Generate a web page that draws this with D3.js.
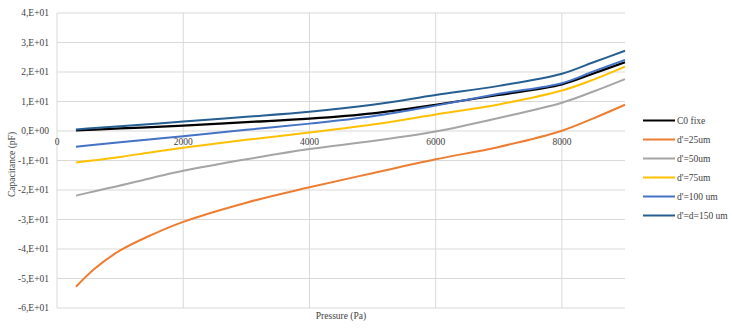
<!DOCTYPE html>
<html>
<head>
<meta charset="utf-8">
<script src="https://cdn.jsdelivr.net/npm/d3@7"></script>
<style>
  body { margin: 0; background: #fff; }
</style>
</head>
<body>
<div id="chart"></div>
<script>
// pressure samples (Pa)
const pressure = [300, 600, 1000, 1500, 2000, 3000, 4000, 5000, 6000, 7000, 8000, 8500, 9000];

// capacitance (pF) per configuration
const c0Fixe = [0.2, 0.5, 0.9, 1.3, 1.8, 3.0, 4.2, 6.0, 8.9, 12.2, 15.8, 19.5, 23.3];
const d25 = [-52.8, -46.6, -40.5, -35.2, -30.8, -24.3, -19.1, -14.3, -9.6, -5.4, 0.1, 4.3, 8.9];
const d50 = [-21.9, -20.4, -18.5, -15.9, -13.5, -9.6, -6.1, -3.4, -0.2, 4.4, 9.6, 13.4, 17.6];
const d75 = [-10.7, -9.9, -8.8, -7.2, -5.7, -3.0, -0.5, 2.2, 5.6, 9.0, 13.7, 17.4, 21.8];
const d100 = [-5.3, -4.7, -3.8, -2.8, -1.8, 0.4, 2.5, 5.0, 8.6, 12.6, 16.2, 20.2, 24.1];
const d150 = [0.5, 1.0, 1.6, 2.4, 3.2, 4.8, 6.5, 8.9, 12.2, 15.3, 19.4, 23.3, 27.2];

const seriesNames = ["C0 fixe", "d'=25um", "d'=50um", "d'=75um", "d'=100 um", "d'=d=150 um"];
const seriesValues = [c0Fixe, d25, d50, d75, d100, d150];
const seriesColors = ["#000000", "#ED7D31", "#A5A5A5", "#FFC000", "#4472C4", "#255E91"];

const xTicks = [0, 2000, 4000, 6000, 8000];
const yTicks = [40, 30, 20, 10, 0, -10, -20, -30, -40, -50, -60];
const yTickLabels = ["4,E+01", "3,E+01", "2,E+01", "1,E+01", "0,E+00", "-1,E+01", "-2,E+01", "-3,E+01", "-4,E+01", "-5,E+01", "-6,E+01"];

const width = 732, height = 332;
const margin = { left: 57, right: 107, top: 13, bottom: 24 };
const font = "'Liberation Serif', 'Times New Roman', serif";
const textColor = "#404040";

const svg = d3.select("#chart")
    .append("svg")
    .attr("width", width)
    .attr("height", height)
    .attr("font-family", font);

const x = d3.scaleLinear()
    .domain([0, 9000])
    .range([margin.left, width - margin.right]);

const y = d3.scaleLinear()
    .domain([-60, 40])
    .range([height - margin.bottom, margin.top]);

const gridColor = "#d9d9d9";

// horizontal gridlines
svg.append("g")
    .selectAll("line")
    .data(yTicks)
    .join("line")
    .attr("x1", x(0))
    .attr("x2", x(9000))
    .attr("y1", d => y(d))
    .attr("y2", d => y(d))
    .attr("stroke", gridColor)
    .attr("stroke-width", 1);

// vertical gridlines (including left border at 0)
svg.append("g")
    .selectAll("line")
    .data(xTicks)
    .join("line")
    .attr("x1", d => x(d))
    .attr("x2", d => x(d))
    .attr("y1", y(40))
    .attr("y2", y(-60))
    .attr("stroke", gridColor)
    .attr("stroke-width", 1);

// y tick labels
svg.append("g")
    .selectAll("text")
    .data(yTicks)
    .join("text")
    .attr("x", margin.left - 8)
    .attr("y", d => y(d))
    .attr("dy", "0.35em")
    .attr("text-anchor", "end")
    .attr("fill", textColor)
    .style("font-size", "9.5px")
    .text((d, i) => yTickLabels[i]);

// x tick labels, sitting under the zero line
svg.append("g")
    .selectAll("text")
    .data(xTicks)
    .join("text")
    .attr("x", d => x(d))
    .attr("y", y(0) + 14)
    .attr("text-anchor", "middle")
    .attr("fill", textColor)
    .style("font-size", "9.5px")
    .text(d => d);

// axis titles
svg.append("text")
    .attr("x", (x(0) + x(9000)) / 2)
    .attr("y", height - 13)
    .attr("text-anchor", "middle")
    .attr("fill", textColor)
    .style("font-size", "9.5px")
    .text("Pressure (Pa)");

svg.append("text")
    .attr("transform", `translate(15,${(y(40) + y(-60)) / 2 + 4}) rotate(-90)`)
    .attr("text-anchor", "middle")
    .attr("fill", textColor)
    .style("font-size", "9.5px")
    .text("Capacitance (pF)");

// series lines
const line = d3.line()
    .x((d, i) => x(pressure[i]))
    .y(d => y(d))
    .curve(d3.curveCatmullRom.alpha(0.5));

seriesValues.forEach((vals, k) => {
    svg.append("path")
        .datum(vals)
        .attr("d", line)
        .attr("fill", "none")
        .attr("stroke", seriesColors[k])
        .attr("stroke-width", k === 0 ? 2.25 : 2)
        .attr("stroke-linejoin", "round");
});

// legend
const legend = svg.append("g")
    .attr("transform", "translate(643,120.5)");

seriesNames.forEach((name, i) => {
    const row = legend.append("g").attr("transform", `translate(0,${i * 19})`);
    row.append("line")
        .attr("x1", 0)
        .attr("x2", 32)
        .attr("stroke", seriesColors[i])
        .attr("stroke-width", 2);
    row.append("text")
        .attr("x", 34)
        .attr("dy", "0.35em")
        .attr("fill", textColor)
        .style("font-size", "9.5px")
        .text(name);
});
</script>
</body>
</html>
